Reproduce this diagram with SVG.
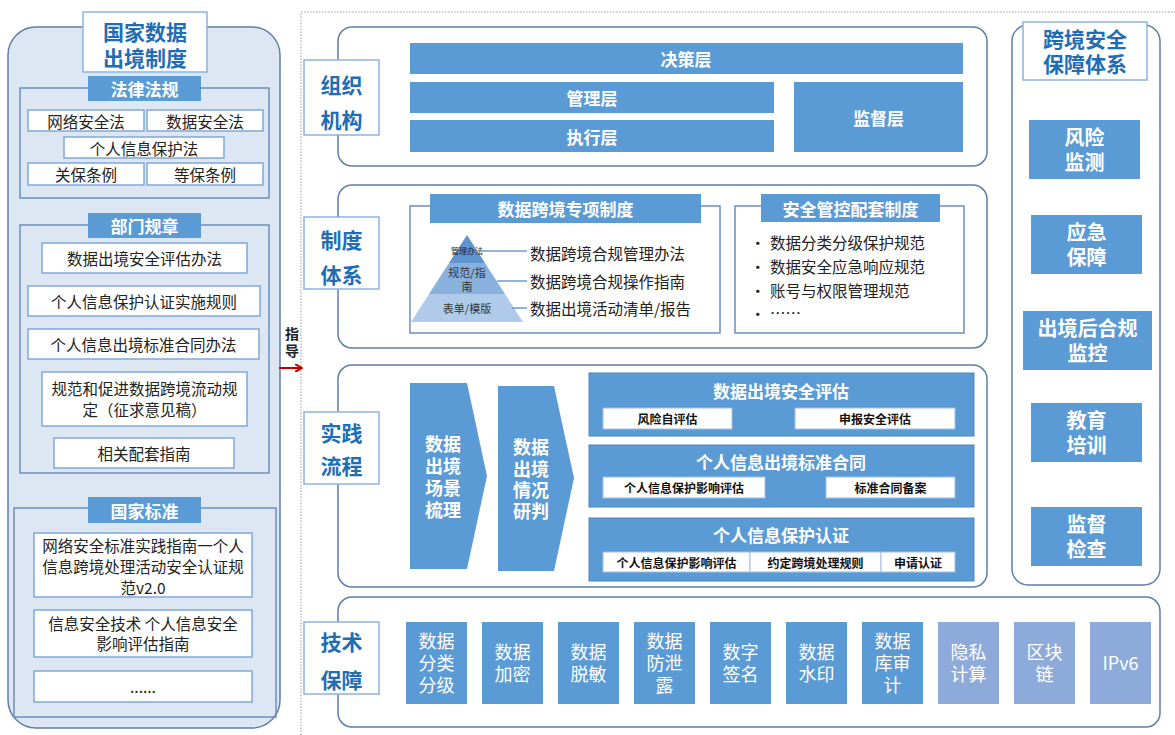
<svg xmlns="http://www.w3.org/2000/svg" width="1175" height="735" viewBox="0 0 1175 735">
<style>
text{font-family:"Noto Sans CJK SC","Noto Sans",sans-serif;dominant-baseline:central;text-anchor:middle}
.panel{fill:#dde7f3;stroke:#5f7fa8;stroke-width:1.5}
.sec{fill:#fff;stroke:#5f7fa8;stroke-width:1.5}
.grp{fill:none;stroke:#6b8fbf;stroke-width:1.5}
.lbl{fill:#fff;stroke:#8db3e0;stroke-width:1.5}
.lt{font-size:21px;font-weight:bold;fill:#1f6db5}
.bb{fill:#5b9bd5;stroke:#4a85c0;stroke-width:1}
.lb{fill:#8eaadb}
.hd{fill:#5b9bd5}
.wt{fill:#fff;font-weight:bold}
.wb{fill:#fff;stroke:#7fa9d9;stroke-width:1.5}
.sb{fill:#fff;stroke:#9fbfe3;stroke-width:1}
.tx{fill:#222;font-size:15.5px}
.st{fill:#111;font-size:12px;font-weight:bold}
.tt{fill:#fff;font-size:18px}
</style>
<defs>
<marker id="ah" markerWidth="8" markerHeight="8" refX="6" refY="4" orient="auto" markerUnits="userSpaceOnUse">
<path d="M0,0 L7,4 L0,8" fill="none" stroke="#c00000" stroke-width="2"/>
</marker>
</defs>

<g id="national-system">
<rect class="panel" x="8" y="27" width="272" height="701" rx="28"/>
<rect x="83" y="12" width="124" height="60" fill="#fff" stroke="#8db3e0" stroke-width="1.5"/>
<text class="lt" x="145"><tspan x="145" y="31">国家数据</tspan><tspan x="145" y="57">出境制度</tspan></text>
</g>

<g id="laws">
<rect class="grp" x="20" y="88" width="249" height="110"/>
<rect class="hd" x="88" y="76" width="113" height="25"/>
<text class="wt" x="144.5" y="88.5" font-size="17">法律法规</text>
<rect class="wb" x="28" y="110" width="116" height="21"/><text class="tx" x="86" y="120.5">网络安全法</text>
<rect class="wb" x="147" y="110" width="116" height="21"/><text class="tx" x="205" y="120.5">数据安全法</text>
<rect class="wb" x="64" y="137" width="160" height="21"/><text class="tx" x="144" y="147.5">个人信息保护法</text>
<rect class="wb" x="28" y="163" width="116" height="22"/><text class="tx" x="86" y="174">关保条例</text>
<rect class="wb" x="147" y="163" width="116" height="22"/><text class="tx" x="205" y="174">等保条例</text>
</g>

<g id="dept-rules">
<rect class="grp" x="20" y="225" width="249" height="248"/>
<rect class="hd" x="88" y="213" width="113" height="25"/>
<text class="wt" x="144.5" y="225.5" font-size="17">部门规章</text>
<rect class="wb" x="42" y="243" width="205" height="30"/><text class="tx" x="144.5" y="258">数据出境安全评估办法</text>
<rect class="wb" x="28" y="286" width="232" height="30"/><text class="tx" x="144" y="301">个人信息保护认证实施规则</text>
<rect class="wb" x="28" y="329" width="231" height="30"/><text class="tx" x="143.5" y="344">个人信息出境标准合同办法</text>
<rect class="wb" x="42" y="372" width="205" height="54"/>
<text class="tx"><tspan x="144.5" y="388">规范和促进数据跨境流动规</tspan><tspan x="144.5" y="409">定（征求意见稿）</tspan></text>
<rect class="wb" x="54" y="438" width="180" height="30"/><text class="tx" x="144" y="453">相关配套指南</text>
</g>

<g id="national-standards">
<rect class="grp" x="14" y="508" width="262" height="209"/>
<rect class="hd" x="88" y="497" width="113" height="26"/>
<text class="wt" x="144.5" y="510" font-size="17">国家标准</text>
<rect class="wb" x="34" y="533" width="218" height="64"/>
<text class="tx"><tspan x="143" y="545">网络安全标准实践指南一个人</tspan><tspan x="143" y="566">信息跨境处理活动安全认证规</tspan><tspan x="143" y="587">范v2.0</tspan></text>
<rect class="wb" x="34" y="610" width="218" height="47"/>
<text class="tx"><tspan x="143" y="623">信息安全技术 个人信息安全</tspan><tspan x="143" y="643">影响评估指南</tspan></text>
<rect class="wb" x="34" y="671" width="218" height="31"/>
<text class="tx" x="143" y="686" font-size="13">......</text>
</g>

<g id="connectors">
<path d="M301,735 V12 H1175" fill="none" stroke="#999" stroke-width="1" stroke-dasharray="1.5,1.5"/>
<line x1="279" y1="368" x2="301" y2="368" stroke="#c00000" stroke-width="2" marker-end="url(#ah)"/>
<text font-size="14" font-weight="bold" fill="#222"><tspan x="292" y="333">指</tspan><tspan x="292" y="350">导</tspan></text>
</g>

<g id="org">
<rect class="sec" x="338" y="27" width="649" height="139" rx="14"/>
<rect class="lbl" x="304" y="60" width="75" height="75"/>
<text class="lt"><tspan x="341.5" y="84">组织</tspan><tspan x="341.5" y="119">机构</tspan></text>
<rect class="hd" x="410" y="43" width="553" height="31"/><text class="wt" x="686" y="58.5" font-size="17">决策层</text>
<rect class="hd" x="410" y="82" width="364" height="31"/><text class="wt" x="592" y="97.5" font-size="17">管理层</text>
<rect class="hd" x="410" y="120" width="364" height="32"/><text class="wt" x="592" y="136" font-size="17">执行层</text>
<rect class="hd" x="794" y="82" width="169" height="70"/><text class="wt" x="878.5" y="117" font-size="17">监督层</text>
</g>

<g id="institution">
<rect class="sec" x="338" y="185" width="649" height="163" rx="14"/>
<rect class="lbl" x="304" y="217" width="75" height="72"/>
<text class="lt"><tspan x="341.5" y="239">制度</tspan><tspan x="341.5" y="274">体系</tspan></text>
<rect class="grp" x="410" y="206" width="310" height="127"/>
<rect class="hd" x="430" y="194" width="271" height="29"/>
<text class="wt" x="565.5" y="208.5" font-size="17">数据跨境专项制度</text>
<polygon points="467,235 485,263 449,263" fill="#5f95cf"/>
<polygon points="449,263 485,263 505,294 429,294" fill="#88b1de"/>
<polygon points="429,294 505,294 523,322 411,322" fill="#b0cbe9"/>
<text x="467" y="250" font-size="8" fill="#222">管理办法</text>
<text font-size="11" fill="#333"><tspan x="467" y="272">规范/指</tspan><tspan x="467" y="286">南</tspan></text>
<text x="467" y="308" font-size="11" fill="#333">表单/模版</text>
<line x1="481" y1="251" x2="527" y2="251" stroke="#6f9ccc" stroke-width="1.5"/>
<line x1="497" y1="281" x2="527" y2="281" stroke="#6f9ccc" stroke-width="1.5"/>
<line x1="512" y1="308" x2="527" y2="308" stroke="#6f9ccc" stroke-width="1.5"/>
<text class="tx" x="530" y="253" style="text-anchor:start" font-size="15">数据跨境合规管理办法</text>
<text class="tx" x="530" y="281" style="text-anchor:start" font-size="15">数据跨境合规操作指南</text>
<text class="tx" x="530" y="308" style="text-anchor:start" font-size="15">数据出境活动清单/报告</text>
<rect class="grp" x="735" y="206" width="229" height="127"/>
<rect class="hd" x="761" y="194" width="179" height="28"/>
<text class="wt" x="850.5" y="208" font-size="17">安全管控配套制度</text>
<text class="tx" font-size="15" style="text-anchor:start"><tspan x="750" y="242">•</tspan><tspan x="770" y="242">数据分类分级保护规范</tspan><tspan x="750" y="266">•</tspan><tspan x="770" y="266">数据安全应急响应规范</tspan><tspan x="750" y="290">•</tspan><tspan x="770" y="290">账号与权限管理规范</tspan><tspan x="750" y="313">•</tspan><tspan x="770" y="312">……</tspan></text>
</g>

<g id="practice">
<rect class="sec" x="338" y="365" width="649" height="222" rx="14"/>
<rect class="lbl" x="304" y="412" width="75" height="72"/>
<text class="lt"><tspan x="341.5" y="432">实践</tspan><tspan x="341.5" y="465">流程</tspan></text>
<polygon class="hd" points="410,383 467,383 487,476 467,569 410,569"/>
<text class="wt" font-size="18"><tspan x="443" y="443">数据</tspan><tspan x="443" y="465">出境</tspan><tspan x="443" y="487">场景</tspan><tspan x="443" y="509">梳理</tspan></text>
<polygon class="hd" points="498,386 554,386 574,478 554,571 498,571"/>
<text class="wt" font-size="18"><tspan x="531" y="446">数据</tspan><tspan x="531" y="468">出境</tspan><tspan x="531" y="489">情况</tspan><tspan x="531" y="510">研判</tspan></text>
<rect class="bb" x="589" y="373" width="385" height="63"/>
<text class="wt" x="781" y="390" font-size="17">数据出境安全评估</text>
<rect class="sb" x="603" y="408" width="129" height="21"/><text class="st" x="667.5" y="418.5">风险自评估</text>
<rect class="sb" x="795" y="408" width="160" height="21"/><text class="st" x="875" y="418.5">申报安全评估</text>
<rect class="bb" x="589" y="445" width="385" height="62"/>
<text class="wt" x="781" y="461" font-size="17">个人信息出境标准合同</text>
<rect class="sb" x="603" y="477" width="162" height="21"/><text class="st" x="684" y="487.5">个人信息保护影响评估</text>
<rect class="sb" x="826" y="477" width="129" height="21"/><text class="st" x="890.5" y="487.5">标准合同备案</text>
<rect class="bb" x="589" y="518" width="385" height="63"/>
<text class="wt" x="781" y="534" font-size="17">个人信息保护认证</text>
<rect class="sb" x="603" y="552" width="147" height="20"/><text class="st" x="676.5" y="562">个人信息保护影响评估</text>
<rect class="sb" x="750" y="552" width="131" height="20"/><text class="st" x="815.5" y="562">约定跨境处理规则</text>
<rect class="sb" x="881" y="552" width="74" height="20"/><text class="st" x="918" y="562">申请认证</text>
</g>

<g id="tech">
<rect class="sec" x="338" y="597" width="822" height="130" rx="14"/>
<rect class="lbl" x="304" y="622" width="75" height="72"/>
<text class="lt"><tspan x="341.5" y="641">技术</tspan><tspan x="341.5" y="679">保障</tspan></text>
<rect class="hd" x="406" y="622" width="61" height="82"/>
<text class="tt"><tspan x="436.5" y="640">数据</tspan><tspan x="436.5" y="662">分类</tspan><tspan x="436.5" y="684">分级</tspan></text>
<rect class="hd" x="482" y="622" width="61" height="82"/>
<text class="tt"><tspan x="512.5" y="651">数据</tspan><tspan x="512.5" y="673">加密</tspan></text>
<rect class="hd" x="558" y="622" width="61" height="82"/>
<text class="tt"><tspan x="588.5" y="651">数据</tspan><tspan x="588.5" y="673">脱敏</tspan></text>
<rect class="hd" x="634" y="622" width="61" height="82"/>
<text class="tt"><tspan x="664.5" y="640">数据</tspan><tspan x="664.5" y="662">防泄</tspan><tspan x="664.5" y="684">露</tspan></text>
<rect class="hd" x="710" y="622" width="61" height="82"/>
<text class="tt"><tspan x="740.5" y="651">数字</tspan><tspan x="740.5" y="673">签名</tspan></text>
<rect class="hd" x="786" y="622" width="61" height="82"/>
<text class="tt"><tspan x="816.5" y="651">数据</tspan><tspan x="816.5" y="673">水印</tspan></text>
<rect class="hd" x="862" y="622" width="61" height="82"/>
<text class="tt"><tspan x="892.5" y="640">数据</tspan><tspan x="892.5" y="662">库审</tspan><tspan x="892.5" y="684">计</tspan></text>
<rect class="lb" x="938" y="622" width="61" height="82"/>
<text class="tt"><tspan x="968.5" y="651">隐私</tspan><tspan x="968.5" y="673">计算</tspan></text>
<rect class="lb" x="1014" y="622" width="61" height="82"/>
<text class="tt"><tspan x="1044.5" y="651">区块</tspan><tspan x="1044.5" y="673">链</tspan></text>
<rect class="lb" x="1090" y="622" width="61" height="82"/>
<text class="tt" x="1120.5" y="662">IPv6</text>
</g>

<g id="security">
<rect class="sec" x="1012" y="25" width="148" height="560" rx="16"/>
<rect x="1023" y="22" width="124" height="58" fill="#fff" stroke="#8db3e0" stroke-width="1.5"/>
<text class="lt" font-size="20"><tspan x="1085" y="38">跨境安全</tspan><tspan x="1085" y="63">保障体系</tspan></text>
<rect class="hd" x="1029" y="120" width="111" height="59"/>
<text class="wt" font-size="20"><tspan x="1084.5" y="136">风险</tspan><tspan x="1084.5" y="161">监测</tspan></text>
<rect class="hd" x="1031" y="215" width="111" height="59"/>
<text class="wt" font-size="20"><tspan x="1086.5" y="231">应急</tspan><tspan x="1086.5" y="256">保障</tspan></text>
<rect class="hd" x="1023" y="311" width="129" height="59"/>
<text class="wt" font-size="20"><tspan x="1087.5" y="327">出境后合规</tspan><tspan x="1087.5" y="352">监控</tspan></text>
<rect class="hd" x="1031" y="403" width="111" height="59"/>
<text class="wt" font-size="20"><tspan x="1086.5" y="419">教育</tspan><tspan x="1086.5" y="444">培训</tspan></text>
<rect class="hd" x="1031" y="507" width="111" height="59"/>
<text class="wt" font-size="20"><tspan x="1086.5" y="523">监督</tspan><tspan x="1086.5" y="548">检查</tspan></text>
</g>
</svg>
